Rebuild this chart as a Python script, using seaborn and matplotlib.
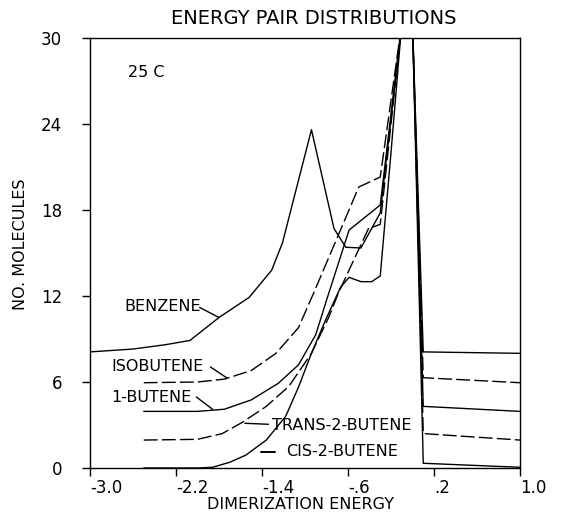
import numpy as np
import pandas as pd
import matplotlib
matplotlib.use("Agg")
import matplotlib.pyplot as plt
import matplotlib.transforms as mtransforms
import seaborn as sns

# ---- data ----
benzene_x = [-3.0, -2.6, -2.3, -2.07, -1.8, -1.52, -1.31, -1.21, -0.94, -0.73, -0.62, -0.48, -0.3, -0.1, 0.0, 0.1, 1.0]
benzene_y = [8.1, 8.3, 8.6, 8.9, 10.5, 11.9, 13.8, 15.7, 23.6, 16.7, 15.4, 15.35, 17.8, 31, 31, 8.1, 8.0]

isobutene_x = [-2.5, -2.0, -1.75, -1.5, -1.27, -1.06, -0.92, -0.5, -0.3, -0.1, 0.0, 0.1, 1.0]
isobutene_y = [5.95, 6.0, 6.2, 6.8, 8.0, 9.8, 12.2, 19.6, 20.3, 31, 31, 6.3, 5.95]

butene1_x = [-2.5, -2.0, -1.75, -1.5, -1.25, -1.06, -0.9, -0.8, -0.59, -0.3, -0.1, 0.0, 0.1, 1.0]
butene1_y = [3.95, 3.95, 4.1, 4.75, 5.9, 7.2, 9.3, 11.7, 16.6, 18.35, 31, 31, 4.3, 3.95]

trans_x = [-2.5, -2.0, -1.77, -1.58, -1.36, -1.15, -0.94, -0.78, -0.69, -0.41, -0.3, -0.1, 0.0, 0.1, 1.0]
trans_y = [1.95, 2.0, 2.4, 3.2, 4.3, 5.7, 8.0, 10.5, 12.2, 16.7, 17.0, 31, 31, 2.4, 1.95]

cis_x = [-2.5, -2.0, -1.86, -1.7, -1.55, -1.36, -1.18, -1.06, -0.94, -0.81, -0.67, -0.59, -0.48, -0.38, -0.3, -0.2, -0.1, 0.0, 0.1, 1.0]
cis_y = [0.0, 0.0, 0.05, 0.4, 0.9, 1.95, 3.6, 5.65, 8.0, 10.3, 12.6, 13.3, 13.0, 13.0, 13.4, 22.0, 31, 31, 0.33, 0.05]

xticks = [-3.0, -2.2, -1.4, -0.6, 0.2, 1.0]
xtick_labels = ["-3.0", "-2.2", "-1.4", "-.6", ".2", "1.0"]
yticks = [0, 6, 12, 18, 24, 30]
ytick_labels = ["0", "6", "12", "18", "24", "30"]

series_names = ["BENZENE", "ISOBUTENE", "1-BUTENE", "TRANS-2-BUTENE", "CIS-2-BUTENE"]

# ---- styling ----
sns.set_theme(style="white")
plt.rcParams["font.family"] = ["DejaVu Sans"]
plt.rcParams["text.color"] = "black"
plt.rcParams["axes.labelcolor"] = "black"

W, H = 562, 513
fig = plt.figure(figsize=(W / 100, H / 100), dpi=100)
L, R, T, B = 90, 520, 38, 468
ax = fig.add_axes([L / W, 1 - B / H, (R - L) / W, (B - T) / H])

lw = 1.0
series = [
    (benzene_x, benzene_y, None),
    (isobutene_x, isobutene_y, (10, 3)),
    (butene1_x, butene1_y, None),
    (trans_x, trans_y, (10, 3)),
    (cis_x, cis_y, None),
]
for (xs, ys, dash), name in zip(series, series_names):
    df = pd.DataFrame({"x": xs, "y": ys})
    sns.lineplot(data=df, x="x", y="y", ax=ax, color="black", linewidth=lw,
                 sort=False, estimator=None)
    if dash is not None:
        ax.lines[-1].set_dashes(dash)

ax.set_xlim(-3.0, 1.0)
ax.set_ylim(0, 30)
ax.set_xticks(xticks, labels=xtick_labels)
ax.set_yticks(yticks, labels=ytick_labels)
shift = mtransforms.ScaledTranslation(-7 / 100, 0, fig.dpi_scale_trans)
for lbl in ax.get_xticklabels():
    lbl.set_ha("left")
    lbl.set_transform(lbl.get_transform() + shift)

ax.tick_params(axis="both", which="major", bottom=True, left=True, top=False, right=False,
               direction="out", length=6, width=1.0, color="black",
               labelsize=12, labelcolor="black")
ax.tick_params(axis="y", pad=14)
ax.tick_params(axis="x", pad=2)
for s in ax.spines.values():
    s.set_visible(True)
    s.set_color("black")
    s.set_linewidth(1.0)

ax.set_xlabel("DIMERIZATION ENERGY", fontsize=11.5, color="black")
ax.set_ylabel("NO. MOLECULES", fontsize=11.5, color="black")
ax.xaxis.set_label_coords(0.49, -0.068)
ax.yaxis.set_label_coords(-0.145, 0.52)
ax.set_title("ENERGY PAIR DISTRIBUTIONS", fontsize=14, color="black", x=0.52, pad=10)

# annotations
fs = 11.5
ax.text(-2.65, 27.6, "25 C", fontsize=fs, va="center", ha="left")
ax.text(-2.32, 11.3, "BENZENE", fontsize=fs, va="center", ha="center")
ax.plot([-1.98, -1.80], [11.2, 10.5], color="black", lw=1.0)
ax.text(-2.37, 7.05, "ISOBUTENE", fontsize=fs, va="center", ha="center")
ax.plot([-1.88, -1.73], [7.05, 6.3], color="black", lw=1.0)
ax.text(-2.43, 4.95, "1-BUTENE", fontsize=fs, va="center", ha="center")
ax.plot([-2.01, -1.86], [4.95, 4.1], color="black", lw=1.0)
ax.text(-1.31, 3.0, "TRANS-2-BUTENE", fontsize=fs, va="center", ha="left")
ax.plot([-1.56, -1.34], [3.12, 3.05], color="black", lw=1.0)
ax.text(-1.18, 1.12, "CIS-2-BUTENE", fontsize=fs, va="center", ha="left")
ax.plot([-1.41, -1.28], [1.12, 1.12], color="black", lw=1.4)

fig.savefig("out.png", dpi=100, facecolor="white")
